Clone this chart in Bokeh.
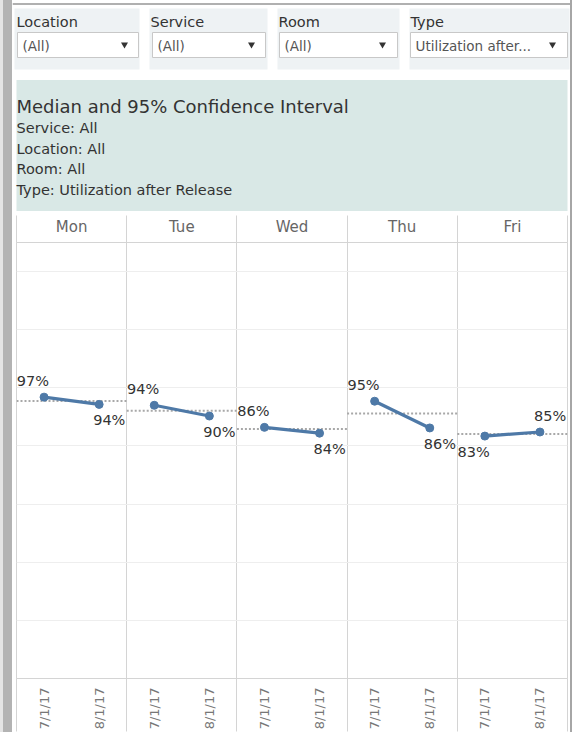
import math
from bokeh.plotting import figure
from bokeh.layouts import column, row
from bokeh.models import Range1d, FixedTicker, LinearAxis, ColumnDataSource, Div
from bokeh.core.properties import value
from bokeh.embed import file_html
from bokeh.resources import INLINE

FONT = "DejaVu Sans"

# ---------------- data ----------------
days = ["Mon", "Tue", "Wed", "Thu", "Fri"]
dates = ["7/1/17", "8/1/17"]
util_jul = [96.8, 94.0, 86.4, 95.4, 83.4]
util_aug = [94.3, 90.3, 84.4, 86.2, 84.8]
ref_line = [95.5, 92.1, 85.8, 91.2, 84.1]
grid_values = [20, 40, 60, 80, 100, 120, 140]

filter_names = ["Location", "Service", "Room", "Type"]
filter_values = ["(All)", "(All)", "(All)", "Utilization after..."]
title_text = "Median and 95% Confidence Interval"
subtitle_lines = ["Service: All", "Location: All", "Room: All", "Type: Utilization after Release"]

# ---------------- header figure (filters + title) ----------------
h = figure(width=558, height=213, x_range=Range1d(12, 570), y_range=Range1d(213, 0),
           min_border=0, toolbar_location=None, output_backend="svg",
           x_axis_location=None, y_axis_location=None, outline_line_color=None)
h.frame_align = False
h.grid.visible = False

# dashboard top border
h.quad(left=12, right=570, top=2.5, bottom=4.5, fill_color="#b0b0b0", line_color=None)

panel_l = [14, 149, 277, 409]
panel_r = [139, 267, 399, 569]
h.quad(left=panel_l, right=panel_r, top=8, bottom=69, fill_color="#eef2f4", line_color=None)

box_l = [17, 152, 279, 410]
box_r = [138, 265, 397, 567]
h.quad(left=box_l, right=box_r, top=32, bottom=57, fill_color="white", line_color="#c8c8c8", line_width=1)

h.text(x=[16, 150, 278, 410], y=[21] * 4, text=filter_names, text_font=value(FONT),
       text_font_size="14.5px", text_color="#333333", text_baseline="alphabetic")
h.text(x=[b + 5 for b in box_l], y=[45] * 4, text=filter_values, text_font=value(FONT),
       text_font_size="13.5px", text_color="#555555", text_baseline="alphabetic")
h.scatter(x=[124, 251, 382, 552], y=[44] * 4, marker="inverted_triangle", size=7,
          fill_color="#333333", line_color=None)

h.quad(left=16, right=567, top=79.5, bottom=210.5, fill_color="#d9e8e6", line_color=None)
h.text(x=[16], y=[105.5], text=[title_text], text_font=value(FONT), text_font_size="18px",
       text_color="#333333", text_baseline="alphabetic")
h.text(x=[16] * 4, y=[127.5, 148, 168.5, 189], text=subtitle_lines, text_font=value(FONT),
       text_font_size="14.5px", text_color="#333333", text_baseline="alphabetic")

# ---------------- chart figure ----------------
p = figure(width=558, height=519, x_range=Range1d(0, 5), y_range=Range1d(0, 150),
           min_border_left=4, min_border_right=3, min_border_top=29, min_border_bottom=53,
           toolbar_location=None, output_backend="svg",
           x_axis_location=None, y_axis_location=None,
           outline_line_color="#d4d4d4", background_fill_color="white")
p.frame_align = False

p.xgrid.ticker = FixedTicker(ticks=list(range(1, len(days))))
p.xgrid.grid_line_color = "#d4d4d4"
p.ygrid.ticker = FixedTicker(ticks=grid_values)
p.ygrid.grid_line_color = "#eeeeee"

n = len(days)
pane_idx = list(range(n))
x_jul = [i + 0.25 for i in pane_idx]
x_aug = [i + 0.75 for i in pane_idx]

# reference (dotted) lines per pane
p.segment(x0=pane_idx, x1=[i + 1 for i in pane_idx], y0=ref_line, y1=ref_line,
          line_color="#a8a8a8", line_width=2, line_dash="2 2")

# lines per pane
p.multi_line(xs=[[a, b] for a, b in zip(x_jul, x_aug)],
             ys=[[a, b] for a, b in zip(util_jul, util_aug)],
             line_color="#4e79a7", line_width=3.2)
p.scatter(x=x_jul + x_aug, y=util_jul + util_aug, size=8,
          fill_color="#4e79a7", line_color="#4e79a7")

# labels
lx, ly, lt, la, lxo, lyo = [], [], [], [], [], []
for i in pane_idx:
    a, b = util_jul[i], util_aug[i]
    for x, v, other, align, xo in ((x_jul[i], a, b, "right", 5), (x_aug[i], b, a, "left", -6)):
        lx.append(x)
        ly.append(v)
        lt.append(f"{round(v):d}%")
        la.append(align)
        lxo.append(xo)
        lyo.append(-16 if v >= other else 16)
src = ColumnDataSource(dict(x=lx, y=ly, t=lt, a=la, xo=lxo, yo=lyo))
p.text(x="x", y="y", text="t", text_align="a", x_offset="xo", y_offset="yo", source=src,
       text_baseline="alphabetic", text_font=value(FONT), text_font_size="14.5px",
       text_color="#333333")

# bottom axis with dates (minor ticks act as pane separators below the frame)
tick_pos, overrides = [], {}
for i in pane_idx:
    for j, d in enumerate(dates):
        t = i + 0.25 + 0.5 * j
        tick_pos.append(t)
        overrides[t] = d
bottom = LinearAxis(ticker=FixedTicker(ticks=tick_pos, minor_ticks=list(range(n + 1))),
                    major_label_overrides=overrides, major_label_orientation=math.pi / 2,
                    major_tick_line_color=None, major_tick_in=0, major_tick_out=0,
                    minor_tick_in=0, minor_tick_out=53, minor_tick_line_color="#d4d4d4",
                    axis_line_color="#d4d4d4", major_label_standoff=9 - 53,
                    major_label_text_font=FONT, major_label_text_font_size="13px",
                    major_label_text_color="#777777")
p.add_layout(bottom, "below")

# top axis with day headers (minor ticks act as pane separators above the frame)
day_pos, day_over = [], {}
for i, d in enumerate(days):
    day_pos.append(i + 0.5)
    day_over[i + 0.5] = d
top = LinearAxis(ticker=FixedTicker(ticks=day_pos, minor_ticks=list(range(n + 1))),
                 major_label_overrides=day_over, major_tick_line_color=None,
                 major_tick_in=0, major_tick_out=0,
                 minor_tick_in=0, minor_tick_out=27, minor_tick_line_color="#d4d4d4",
                 axis_line_color="#d4d4d4", major_label_standoff=7 - 27,
                 major_label_text_font=FONT, major_label_text_font_size="15px",
                 major_label_text_color="#666666")
p.add_layout(top, "above")

left_bar = Div(text="", width=12, height=732, margin=0,
               styles={"background": "linear-gradient(to right, #e4e4e4 0px, #e4e4e4 3px, #b3b3b3 3px, #b3b3b3 12px)"})
right_bar = Div(text="", width=2, height=732, margin=0, styles={"background-color": "#a6a6a6"})

layout = row(left_bar, column(h, p, spacing=0), right_bar, spacing=0)

open("out.html", "w").write(file_html(layout, INLINE))
